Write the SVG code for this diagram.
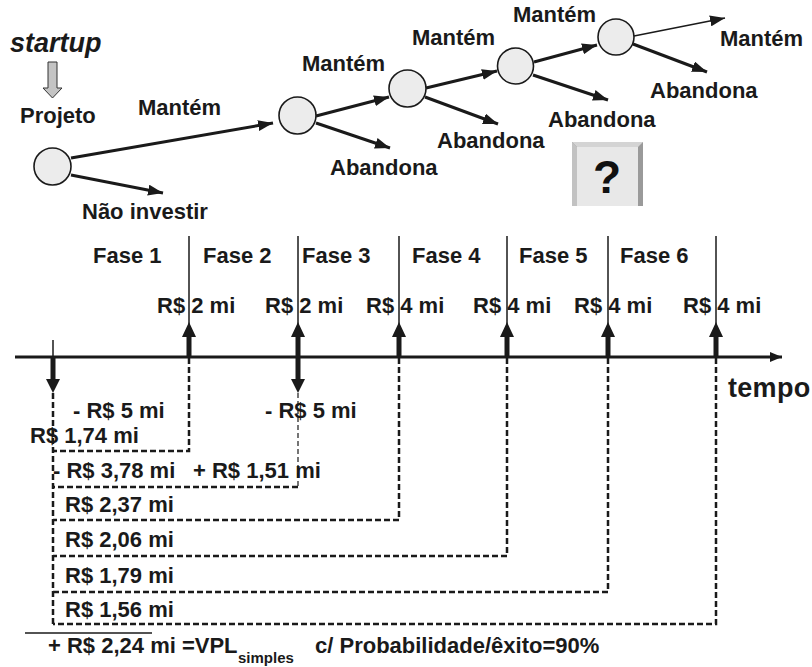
<svg xmlns="http://www.w3.org/2000/svg" width="812" height="667" viewBox="0 0 812 667">
  <style>
    .t { font-family: "Liberation Sans", Arial, sans-serif; font-weight: bold; font-size: 22px; fill: #1a1a1a; }
    .node { fill: #ececec; stroke: #1a1a1a; stroke-width: 1.6; }
    .edge { stroke: #1a1a1a; stroke-width: 3; fill: none; marker-end: url(#head); }
    .thin { stroke-width: 1.5; }
    .phase { stroke: #1a1a1a; stroke-width: 1.5; }
    .dash { stroke: #1a1a1a; stroke-width: 2.5; stroke-dasharray: 6 3; fill: none; }
    .dash-thin { stroke: #1a1a1a; stroke-width: 1.2; stroke-dasharray: 5 3; fill: none; }
    .flow { fill: #1a1a1a; }
  </style>
  <defs>
    <marker id="head" markerUnits="userSpaceOnUse" markerWidth="15" markerHeight="11" refX="15" refY="5.5" orient="auto">
      <path d="M0,0 L15,5.5 L0,11 z" fill="#1a1a1a"/>
    </marker>
    <marker id="axis-head" markerUnits="userSpaceOnUse" markerWidth="12" markerHeight="10" refX="12" refY="5" orient="auto">
      <path d="M0,0 L12,5 L0,10 z" fill="#1a1a1a"/>
    </marker>
  </defs>

  <!-- decision tree -->
  <g id="startup">
    <text class="t" x="10" y="52" style="font-style:italic;font-size:27px">startup</text>
    <polygon points="48,62 57,62 57,88 62,88 52.5,98 43,88 48,88" fill="#c4c4c4" stroke="#333" stroke-width="1"/>
  </g>
  <g id="node-projeto">
    <text class="t" x="20" y="123">Projeto</text>
    <circle class="node" cx="52.5" cy="166.5" r="18.5"/>
  </g>
  <g id="node-2"><circle class="node" cx="297.5" cy="115.5" r="18.5"/></g>
  <g id="node-3"><circle class="node" cx="407.5" cy="88.5" r="18.5"/></g>
  <g id="node-4"><circle class="node" cx="515.5" cy="66" r="18"/></g>
  <g id="node-5"><circle class="node" cx="616" cy="37" r="18"/></g>

  <g id="tree-edges">
    <line class="edge" x1="71" y1="158" x2="273" y2="123"/>
    <line class="edge" x1="71" y1="175" x2="163" y2="193"/>
    <line class="edge" x1="316" y1="116" x2="389" y2="97"/>
    <line class="edge" x1="316" y1="123" x2="390" y2="148"/>
    <line class="edge" x1="426" y1="88" x2="497" y2="71"/>
    <line class="edge" x1="425" y1="97" x2="498" y2="124"/>
    <line class="edge" x1="534" y1="62" x2="597" y2="45"/>
    <line class="edge" x1="533" y1="75" x2="608" y2="100"/>
    <line class="edge thin" x1="634" y1="36" x2="725" y2="18"/>
    <line class="edge" x1="633" y1="44" x2="707" y2="72"/>
  </g>

  <g id="tree-labels">
    <text class="t" x="138" y="115">Mantém</text>
    <text class="t" x="82" y="219">Não investir</text>
    <text class="t" x="302" y="71">Mantém</text>
    <text class="t" x="330" y="175">Abandona</text>
    <text class="t" x="412" y="45">Mantém</text>
    <text class="t" x="437" y="148">Abandona</text>
    <text class="t" x="513" y="22">Mantém</text>
    <text class="t" x="548" y="127">Abandona</text>
    <text class="t" x="720" y="46">Mantém</text>
    <text class="t" x="650" y="98">Abandona</text>
  </g>

  <!-- bevelled question button -->
  <g id="question">
    <rect x="572" y="142" width="71" height="64" fill="#9a9a9a"/>
    <polygon points="572,142 643,142 638,147 577,147" fill="#d4d4d4"/>
    <polygon points="572,142 577,147 577,206 572,206" fill="#c2c2c2"/>
    <rect x="577" y="147" width="61" height="59" fill="#e8e8e8"/>
    <text x="607" y="193" text-anchor="middle" style="font-family:'Liberation Sans',Arial,sans-serif;font-weight:bold;font-size:46px" fill="#111">?</text>
  </g>

  <!-- cash-flow time line -->
  <g id="timeline">
    <line x1="15" y1="357" x2="782" y2="357" stroke="#1a1a1a" stroke-width="3" marker-end="url(#axis-head)"/>
    <line class="phase" x1="189" y1="236" x2="189" y2="357"/>
    <line class="phase" x1="298" y1="236" x2="298" y2="357"/>
    <line class="phase" x1="399" y1="236" x2="399" y2="357"/>
    <line class="phase" x1="507" y1="236" x2="507" y2="357"/>
    <line class="phase" x1="608" y1="236" x2="608" y2="357"/>
    <line class="phase" x1="716" y1="236" x2="716" y2="357"/>
    <text class="t" x="728" y="397" style="font-size:27px;letter-spacing:0.3px">tempo</text>
  </g>

  <g id="phase-labels">
    <text class="t" x="93" y="263">Fase 1</text>
    <text class="t" x="203" y="263">Fase 2</text>
    <text class="t" x="302" y="263">Fase 3</text>
    <text class="t" x="412" y="263">Fase 4</text>
    <text class="t" x="519" y="263">Fase 5</text>
    <text class="t" x="620" y="263">Fase 6</text>
  </g>

  <!-- inflows (up) and outflows (down) -->
  <g id="cash-arrows">
    <g class="flow">
      <rect x="186.5" y="336" width="5" height="21"/><polygon points="182,337 189,322 196,337"/>
      <rect x="295.5" y="336" width="5" height="44"/><polygon points="291,337 298,322 305,337"/><polygon points="291,379 305,379 298,393"/>
      <rect x="396.5" y="336" width="5" height="21"/><polygon points="392,337 399,322 406,337"/>
      <rect x="504.5" y="336" width="5" height="21"/><polygon points="500,337 507,322 514,337"/>
      <rect x="605.5" y="336" width="5" height="21"/><polygon points="601,337 608,322 615,337"/>
      <rect x="713.5" y="336" width="5" height="21"/><polygon points="709,337 716,322 723,337"/>
      <rect x="50.5" y="357" width="5" height="23"/><polygon points="46,379 60,379 53,393"/>
    </g>
    <line x1="53" y1="340" x2="53" y2="357" stroke="#1a1a1a" stroke-width="1.5"/>
  </g>

  <g id="cash-labels">
    <text class="t" x="157" y="313">R$ 2 mi</text>
    <text class="t" x="265" y="313">R$ 2 mi</text>
    <text class="t" x="366" y="313">R$ 4 mi</text>
    <text class="t" x="473" y="313">R$ 4 mi</text>
    <text class="t" x="574" y="313">R$ 4 mi</text>
    <text class="t" x="683" y="313">R$ 4 mi</text>
    <text class="t" x="73" y="418">- R$ 5 mi</text>
    <text class="t" x="265" y="418">- R$ 5 mi</text>
  </g>

  <!-- discounting brackets -->
  <g id="connectors">
    <path class="dash" d="M53,393 V624"/>
    <path class="dash" d="M189,358 V451 H53"/>
    <path class="dash-thin" d="M298,393 V487"/>
    <path class="dash" d="M298,487 H53"/>
    <path class="dash" d="M399,358 V520 H53"/>
    <path class="dash" d="M507,358 V556 H53"/>
    <path class="dash" d="M608,358 V592 H53"/>
    <path class="dash" d="M716,358 V624 H53"/>
    <line x1="25" y1="633" x2="152" y2="633" stroke="#1a1a1a" stroke-width="1.5"/>
  </g>

  <g id="present-values">
    <text class="t" x="30" y="443">R$ 1,74 mi</text>
    <text class="t" x="53" y="478">- R$ 3,78 mi</text>
    <text class="t" x="193" y="478">+ R$ 1,51 mi</text>
    <text class="t" x="65" y="512">R$ 2,37 mi</text>
    <text class="t" x="65" y="547">R$ 2,06 mi</text>
    <text class="t" x="65" y="583">R$ 1,79 mi</text>
    <text class="t" x="65" y="617">R$ 1,56 mi</text>
  </g>

  <g id="result">
    <text class="t" x="48" y="653">+ R$ 2,24 mi =VPL</text>
    <text class="t" x="238" y="663" style="font-size:15px">simples</text>
    <text class="t" x="315" y="653">c/ Probabilidade/êxito=90%</text>
  </g>
</svg>
